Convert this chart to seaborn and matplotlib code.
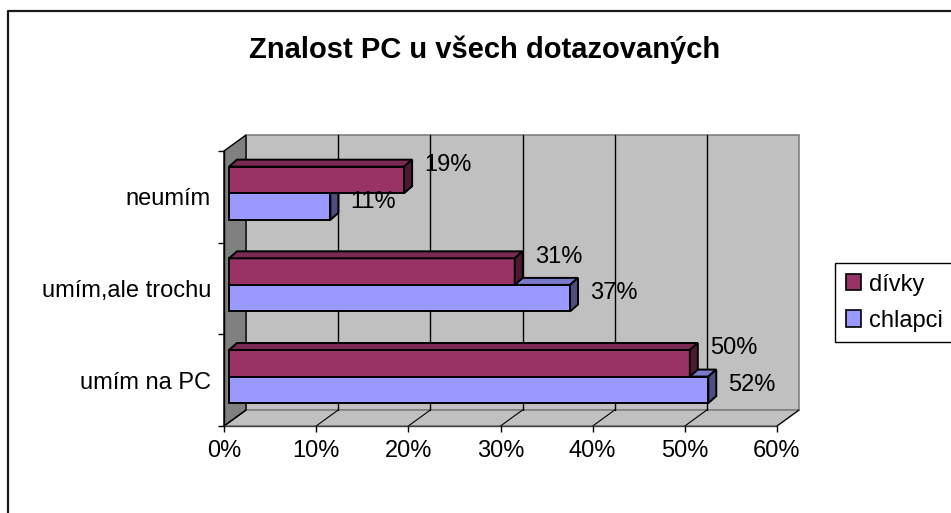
import numpy as np
import pandas as pd
import matplotlib
matplotlib.use("Agg")
import matplotlib.pyplot as plt
import seaborn as sns
from matplotlib.patches import Polygon, Patch
from matplotlib.lines import Line2D
from matplotlib.transforms import IdentityTransform, offset_copy

# ---- data ----
categories = ["neumím", "umím,ale trochu", "umím na PC"]
series = ["dívky", "chlapci"]
divky = [0.19, 0.31, 0.50]
chlapci = [0.11, 0.37, 0.52]
xticks = [0.0, 0.1, 0.2, 0.3, 0.4, 0.5, 0.6]
xtick_labels = ["0%", "10%", "20%", "30%", "40%", "50%", "60%"]
title = "Znalost PC u všech dotazovaných"

colors = {"dívky": "#993366", "chlapci": "#9999FF"}
top_colors = {"dívky": "#7A2952", "chlapci": "#7A7ACC"}
side_colors = {"dívky": "#4D1A33", "chlapci": "#4D4D80"}

df = pd.DataFrame({
    "kategorie": categories * 2,
    "pohlavi": [series[0]] * len(categories) + [series[1]] * len(categories),
    "podil": divky + chlapci,
})

sns.set_theme(style="white")
plt.rcParams["font.family"] = ["Liberation Sans", "DejaVu Sans"]
plt.rcParams["text.color"] = "black"
plt.rcParams["xtick.color"] = "black"
plt.rcParams["ytick.color"] = "black"
plt.rcParams["xtick.labelcolor"] = "black"
plt.rcParams["ytick.labelcolor"] = "black"

W, H = 951, 513
fig = plt.figure(figsize=(W / 100, H / 100), dpi=100)
fig.patch.set_facecolor("white")

# front plane of the 3D box (pixels)
FL, FR, FT, FB = 224, 777, 151, 426
ax = fig.add_axes([FL / W, (H - FB) / H, (FR - FL) / W, (FB - FT) / H])

sns.barplot(data=df, y="kategorie", x="podil", hue="pohlavi", hue_order=series,
            order=categories, palette=colors, orient="h", width=0.58, ax=ax,
            edgecolor="black", linewidth=1.4, saturation=1, legend=False)

ax.set_xlim(0, 0.6)
ax.set_ylim(2.5, -0.5)
ax.patch.set_visible(False)
for s in ax.spines.values():
    s.set_visible(False)
ax.set_xlabel("")
ax.set_ylabel("")

ax.set_xticks(xticks)
ax.set_xticklabels(xtick_labels, fontsize=17, color="black")
ax.tick_params(axis="x", length=4.3, width=1, color="black", direction="out", pad=6,
               bottom=True)
ax.set_yticks(range(len(categories)))
ax.set_yticklabels(categories, fontsize=17, color="black")
ax.set_yticks([-0.5, 0.5, 1.5, 2.5], minor=True)
ax.tick_params(axis="y", which="major", length=0, pad=9.4, left=True)
ax.tick_params(axis="y", which="minor", length=4.3, width=1, color="black",
               direction="out", left=True)

fig.canvas.draw()
ID = IdentityTransform()
DX, DY = 22, 16          # depth of the box
BX, BY = 8, 7            # depth of the bars
SX, SY = 5, 3.6          # bar shift behind front plane


def add_poly(pts, fc, ec="black", lw=1.0, z=1.0):
    ax.add_artist(Polygon(pts, closed=True, facecolor=fc, edgecolor=ec, lw=lw,
                          transform=ID, clip_on=False, zorder=z))


def add_line(xs, ys, color="black", lw=1.0, z=1.0):
    ax.add_artist(Line2D(xs, ys, color=color, lw=lw, transform=ID, clip_on=False,
                         zorder=z))


def d(x, y):
    return ax.transData.transform((x, y))


x0, yb = d(0, 2.5)
x6, yt = d(0.6, -0.5)
# back wall
add_poly([(x0 + DX, yb + DY), (x6 + DX, yb + DY), (x6 + DX, yt + DY), (x0 + DX, yt + DY)],
         "#C0C0C0", ec="#808080", lw=1.2, z=0.1)
# floor
add_poly([(x0, yb), (x6, yb), (x6 + DX, yb + DY), (x0 + DX, yb + DY)],
         "#C0C0C0", ec="#808080", lw=1.2, z=0.1)
# side wall
add_poly([(x0, yb), (x0 + DX, yb + DY), (x0 + DX, yt + DY), (x0, yt)],
         "#808080", ec="black", lw=1.0, z=0.2)
# gridlines
for t in xticks:
    xt, _ = d(t, 0)
    add_line([xt, xt + DX], [yb, yb + DY], color="black", lw=0.8, z=0.3)
    if 0 < t < 0.6:
        add_line([xt + DX, xt + DX], [yb + DY, yt + DY], color="black", lw=1.0, z=0.3)
# axis lines of the front plane
add_line([x0, x6], [yb, yb], color="#404040", lw=1.0, z=0.4)
add_line([x0, x0], [yb, yt], color="black", lw=1.0, z=0.4)

# bars: shift, add top and side faces
shift = offset_copy(ax.transData, fig, x=SX, y=SY, units="dots")
for name, cont in zip(series, ax.containers):
    zf = 3.0
    zs = 3.5 if name == series[0] else 2.5
    for p in cont.patches:
        p.set_transform(shift)
        p.set_zorder(zf)
        p.set_clip_on(False)
        px, py, pw, ph = p.get_x(), p.get_y(), p.get_width(), p.get_height()
        L, T = d(px, py)
        R, B = d(px + pw, py + ph)
        L, R, T, B = L + SX, R + SX, T + SY, B + SY
        add_poly([(L, T), (R, T), (R + BX, T + BY), (L + BX, T + BY)],
                 top_colors[name], lw=1.4, z=zs)
        add_poly([(R, T), (R + BX, T + BY), (R + BX, B + BY), (R, B)],
                 side_colors[name], lw=1.4, z=zs)

# data labels
label_dy = {"dívky": 15, "chlapci": 5}
for name, cont in zip(series, ax.containers):
    tr = offset_copy(ax.transData, fig, x=SX + 20, y=SY + label_dy[name], units="dots")
    for p in cont.patches:
        v = p.get_width()
        ax.text(v, p.get_y() + p.get_height() / 2, f"{v * 100:.0f}%", transform=tr,
                ha="left", va="center", fontsize=17, color="black", zorder=5,
                clip_on=False)

# title
fig.text(485 / W, 1 - 50 / H, title, ha="center", va="center", fontsize=21,
         fontweight="bold", color="black")

# legend
handles = [Patch(facecolor=colors[s], edgecolor="black", linewidth=1.2, label=s)
           for s in series]
leg = fig.legend(handles=handles, loc="upper left",
                 bbox_to_anchor=(835 / W, 1 - 263 / H), frameon=True, fancybox=False,
                 edgecolor="black", framealpha=1, fontsize=17, handlelength=0.67,
                 handleheight=0.67, handletextpad=0.3, labelspacing=0.6,
                 borderpad=0.45, borderaxespad=0)
leg.get_frame().set_linewidth(1.0)
for t in leg.get_texts():
    t.set_color("black")

# chart border
fig.add_artist(Line2D([8 / W, 8 / W, 1], [0, 1 - 11 / H, 1 - 11 / H],
                      transform=fig.transFigure, color="#1a1a1a", lw=1.6))

fig.savefig("out.png", dpi=100)
